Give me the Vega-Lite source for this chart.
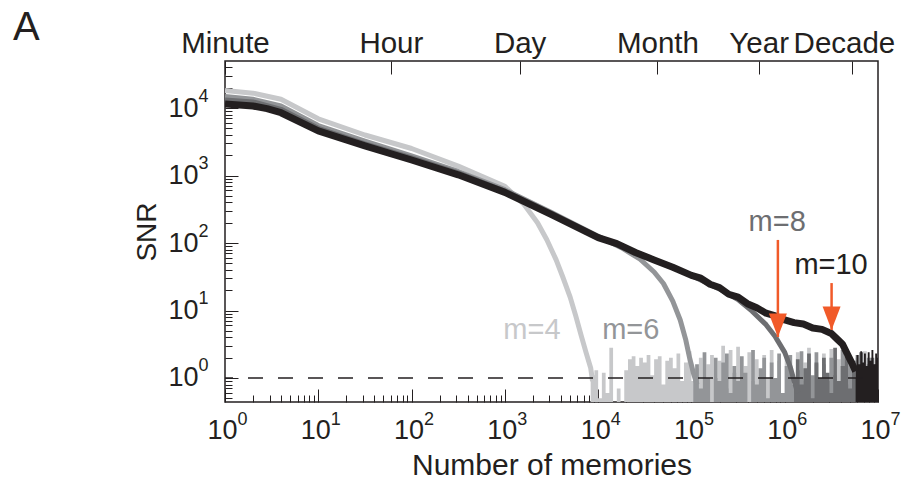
{
  "$schema": "https://vega.github.io/schema/vega-lite/v6.json",
  "autosize": {"type": "none"},
  "width": 653,
  "height": 341,
  "padding": {"left": 225, "top": 61, "right": 30, "bottom": 84},
  "background": "white",
  "title": {"text": "A", "anchor": "start", "frame": "group", "fontSize": 40, "font": "Liberation Sans", "fontWeight": "normal", "color": "#231f20", "dx": -212, "offset": 0, "dy": 20},
  "config": {
    "view": {"stroke": "#231f20", "strokeWidth": 1.5},
    "font": "Liberation Sans",
    "axis": {"domain": false, "grid": false, "labelFont": "Liberation Sans", "labelColor": "#231f20", "tickColor": "#231f20", "tickWidth": 1, "titleFont": "Liberation Sans", "titleFontWeight": "normal", "titleColor": "#231f20", "labelFlush": false, "labelOverlap": false, "labelBound": false}
  },
  "datasets": {
    "curves": [
      {"s": "4", "n": 1, "snr": 18197}, {"s": "4", "n": 1.995, "snr": 16596}, {"s": "4", "n": 3.981, "snr": 13490}, {"s": "4", "n": 10, "snr": 6918}, {"s": "4", "n": 31.62, "snr": 3981}, {"s": "4", "n": 100, "snr": 2512}, {"s": "4", "n": 316.2, "snr": 1380}, {"s": "4", "n": 1000, "snr": 692}, {"s": "4", "n": 1585, "snr": 380}, {"s": "4", "n": 2239, "snr": 200}, {"s": "4", "n": 2818, "snr": 112}, {"s": "4", "n": 3548, "snr": 56.2}, {"s": "4", "n": 4169, "snr": 31.6}, {"s": "4", "n": 5012, "snr": 15.8}, {"s": "4", "n": 5754, "snr": 8.32}, {"s": "4", "n": 6607, "snr": 4.17}, {"s": "4", "n": 7413, "snr": 2.4}, {"s": "4", "n": 8318, "snr": 1.41}, {"s": "4", "n": 8710, "snr": 0.9},
      {"s": "6", "n": 1, "snr": 14791}, {"s": "6", "n": 1.995, "snr": 13490}, {"s": "6", "n": 3.981, "snr": 10715}, {"s": "6", "n": 10, "snr": 5495}, {"s": "6", "n": 31.62, "snr": 3236}, {"s": "6", "n": 100, "snr": 1950}, {"s": "6", "n": 316.2, "snr": 1148}, {"s": "6", "n": 1000, "snr": 617}, {"s": "6", "n": 3162, "snr": 282}, {"s": "6", "n": 10000, "snr": 126}, {"s": "6", "n": 17783, "snr": 85.1}, {"s": "6", "n": 28184, "snr": 57.5}, {"s": "6", "n": 39811, "snr": 37.2}, {"s": "6", "n": 50119, "snr": 25.1}, {"s": "6", "n": 63096, "snr": 13.8}, {"s": "6", "n": 75858, "snr": 7.24}, {"s": "6", "n": 87096, "snr": 3.63}, {"s": "6", "n": 95499, "snr": 2.0}, {"s": "6", "n": 104713, "snr": 1.2}, {"s": "6", "n": 114815, "snr": 0.8},
      {"s": "8", "n": 1, "snr": 13183}, {"s": "8", "n": 1.995, "snr": 12303}, {"s": "8", "n": 3.981, "snr": 9550}, {"s": "8", "n": 10, "snr": 5012}, {"s": "8", "n": 31.62, "snr": 2951}, {"s": "8", "n": 100, "snr": 1820}, {"s": "8", "n": 316.2, "snr": 1096}, {"s": "8", "n": 1000, "snr": 589}, {"s": "8", "n": 3162, "snr": 275}, {"s": "8", "n": 10000, "snr": 123}, {"s": "8", "n": 31623, "snr": 64.6}, {"s": "8", "n": 100000, "snr": 33.1}, {"s": "8", "n": 199526, "snr": 20.9}, {"s": "8", "n": 316228, "snr": 14.5}, {"s": "8", "n": 446684, "snr": 9.77}, {"s": "8", "n": 630957, "snr": 6.17}, {"s": "8", "n": 794328, "snr": 4.07}, {"s": "8", "n": 1000000, "snr": 2.4}, {"s": "8", "n": 1148154, "snr": 1.45}, {"s": "8", "n": 1258925, "snr": 0.91}, {"s": "8", "n": 1380384, "snr": 0.6},
      {"s": "10", "n": 1, "snr": 11482}, {"s": "10", "n": 1.995, "snr": 10715}, {"s": "10", "n": 2.818, "snr": 9772}, {"s": "10", "n": 3.981, "snr": 8511}, {"s": "10", "n": 10, "snr": 4571}, {"s": "10", "n": 31.62, "snr": 2754}, {"s": "10", "n": 100, "snr": 1698}, {"s": "10", "n": 316.2, "snr": 1023}, {"s": "10", "n": 1000, "snr": 562}, {"s": "10", "n": 3162, "snr": 263}, {"s": "10", "n": 10000, "snr": 120}, {"s": "10", "n": 15849, "snr": 97.7}, {"s": "10", "n": 25119, "snr": 72.4}, {"s": "10", "n": 39811, "snr": 56.2}, {"s": "10", "n": 63096, "snr": 43.7}, {"s": "10", "n": 100000, "snr": 33.1}, {"s": "10", "n": 125893, "snr": 30.2}, {"s": "10", "n": 158489, "snr": 24.5}, {"s": "10", "n": 199526, "snr": 21.9}, {"s": "10", "n": 251189, "snr": 17.4}, {"s": "10", "n": 316228, "snr": 15.8}, {"s": "10", "n": 398107, "snr": 12.6}, {"s": "10", "n": 501187, "snr": 11.0}, {"s": "10", "n": 630957, "snr": 9.12}, {"s": "10", "n": 794328, "snr": 8.32}, {"s": "10", "n": 1000000, "snr": 7.24}, {"s": "10", "n": 1258925, "snr": 6.61}, {"s": "10", "n": 1584893, "snr": 6.31}, {"s": "10", "n": 1995262, "snr": 5.5}, {"s": "10", "n": 2511886, "snr": 5.25}, {"s": "10", "n": 3162278, "snr": 4.57}, {"s": "10", "n": 3630781, "snr": 3.8}, {"s": "10", "n": 4168694, "snr": 3.16}, {"s": "10", "n": 4677351, "snr": 2.29}, {"s": "10", "n": 5248075, "snr": 1.66}, {"s": "10", "n": 5754399, "snr": 1.26}
    ],
    "noise": [
      {"s": "4", "n": 8318, "snr": 1.4}, {"s": "4", "n": 8710, "snr": 1.1}, {"s": "4", "n": 9550, "snr": 1.3}, {"s": "4", "n": 10471, "snr": 0.5}, {"s": "4", "n": 11482, "snr": 1.2}, {"s": "4", "n": 12589, "snr": 0.6}, {"s": "4", "n": 13804, "snr": 2.8}, {"s": "4", "n": 15136, "snr": 0.35}, {"s": "4", "n": 16596, "snr": 0.7}, {"s": "4", "n": 18197, "snr": 0.35}, {"s": "4", "n": 19953, "snr": 1.3}, {"s": "4", "n": 21878, "snr": 1.9}, {"s": "4", "n": 23988, "snr": 2.1}, {"s": "4", "n": 26303, "snr": 1.5}, {"s": "4", "n": 28840, "snr": 2.0}, {"s": "4", "n": 31623, "snr": 1.7}, {"s": "4", "n": 34674, "snr": 2.2}, {"s": "4", "n": 38019, "snr": 1.1}, {"s": "4", "n": 41687, "snr": 1.9}, {"s": "4", "n": 45709, "snr": 2.1}, {"s": "4", "n": 50119, "snr": 0.8}, {"s": "4", "n": 54954, "snr": 1.8}, {"s": "4", "n": 60256, "snr": 2.0}, {"s": "4", "n": 66069, "snr": 1.4}, {"s": "4", "n": 72444, "snr": 2.3}, {"s": "4", "n": 79433, "snr": 0.9}, {"s": "4", "n": 87096, "snr": 1.7}, {"s": "4", "n": 95499, "snr": 2.5}, {"s": "4", "n": 104713, "snr": 0.9}, {"s": "4", "n": 114815, "snr": 1.4}, {"s": "4", "n": 125893, "snr": 2.0}, {"s": "4", "n": 138038, "snr": 0.3}, {"s": "4", "n": 151356, "snr": 1.6}, {"s": "4", "n": 165959, "snr": 2.2}, {"s": "4", "n": 181970, "snr": 1.0}, {"s": "4", "n": 199526, "snr": 1.8}, {"s": "4", "n": 218776, "snr": 3.0}, {"s": "4", "n": 239883, "snr": 0.7}, {"s": "4", "n": 263027, "snr": 2.6}, {"s": "4", "n": 288403, "snr": 1.2}, {"s": "4", "n": 316228, "snr": 2.9}, {"s": "4", "n": 346737, "snr": 0.3}, {"s": "4", "n": 380189, "snr": 1.5}, {"s": "4", "n": 416869, "snr": 2.4}, {"s": "4", "n": 457088, "snr": 0.9}, {"s": "4", "n": 501187, "snr": 1.9}, {"s": "4", "n": 549541, "snr": 0.6}, {"s": "4", "n": 602560, "snr": 2.2}, {"s": "4", "n": 660693, "snr": 1.0}, {"s": "4", "n": 724436, "snr": 2.6}, {"s": "4", "n": 794328, "snr": 0.8}, {"s": "4", "n": 870964, "snr": 1.8}, {"s": "4", "n": 954993, "snr": 0.3}, {"s": "4", "n": 1047129, "snr": 2.1}, {"s": "4", "n": 1148154, "snr": 1.3}, {"s": "4", "n": 1258925, "snr": 0.7}, {"s": "4", "n": 1380384, "snr": 2.4}, {"s": "4", "n": 1513561, "snr": 0.9}, {"s": "4", "n": 1659587, "snr": 1.7}, {"s": "4", "n": 1819701, "snr": 2.8}, {"s": "4", "n": 1995262, "snr": 0.6}, {"s": "4", "n": 2187762, "snr": 1.6}, {"s": "4", "n": 2398833, "snr": 0.3}, {"s": "4", "n": 2630268, "snr": 2.3}, {"s": "4", "n": 2884032, "snr": 1.1}, {"s": "4", "n": 3162278, "snr": 2.7}, {"s": "4", "n": 3467369, "snr": 0.8}, {"s": "4", "n": 3801894, "snr": 1.9}, {"s": "4", "n": 4168694, "snr": 0.5}, {"s": "4", "n": 4570882, "snr": 2.2}, {"s": "4", "n": 5011872, "snr": 1.4}, {"s": "4", "n": 5495409, "snr": 0.7}, {"s": "4", "n": 6025596, "snr": 2.0}, {"s": "4", "n": 6606934, "snr": 0.9}, {"s": "4", "n": 7244360, "snr": 2.5}, {"s": "4", "n": 7943282, "snr": 0.6}, {"s": "4", "n": 8709636, "snr": 1.8}, {"s": "4", "n": 9549926, "snr": 0.9}, {"s": "4", "n": 10000000, "snr": 1.2},
      {"s": "6", "n": 104713, "snr": 1.2}, {"s": "6", "n": 114815, "snr": 1.6}, {"s": "6", "n": 125893, "snr": 0.7}, {"s": "6", "n": 138038, "snr": 2.4}, {"s": "6", "n": 151356, "snr": 1.0}, {"s": "6", "n": 165959, "snr": 0.35}, {"s": "6", "n": 181970, "snr": 2.0}, {"s": "6", "n": 199526, "snr": 0.9}, {"s": "6", "n": 218776, "snr": 1.7}, {"s": "6", "n": 239883, "snr": 2.3}, {"s": "6", "n": 263027, "snr": 0.6}, {"s": "6", "n": 288403, "snr": 1.5}, {"s": "6", "n": 316228, "snr": 0.9}, {"s": "6", "n": 346737, "snr": 2.1}, {"s": "6", "n": 380189, "snr": 1.2}, {"s": "6", "n": 416869, "snr": 0.35}, {"s": "6", "n": 457088, "snr": 2.6}, {"s": "6", "n": 501187, "snr": 0.8}, {"s": "6", "n": 549541, "snr": 1.4}, {"s": "6", "n": 602560, "snr": 2.0}, {"s": "6", "n": 660693, "snr": 0.5}, {"s": "6", "n": 724436, "snr": 1.7}, {"s": "6", "n": 794328, "snr": 1.0}, {"s": "6", "n": 870964, "snr": 2.3}, {"s": "6", "n": 954993, "snr": 0.6}, {"s": "6", "n": 1047129, "snr": 1.5}, {"s": "6", "n": 1148154, "snr": 2.2}, {"s": "6", "n": 1258925, "snr": 0.8}, {"s": "6", "n": 1380384, "snr": 1.3}, {"s": "6", "n": 1513561, "snr": 2.5}, {"s": "6", "n": 1659587, "snr": 0.35}, {"s": "6", "n": 1819701, "snr": 1.9}, {"s": "6", "n": 1995262, "snr": 1.1}, {"s": "6", "n": 2187762, "snr": 2.4}, {"s": "6", "n": 2398833, "snr": 0.6}, {"s": "6", "n": 2630268, "snr": 1.6}, {"s": "6", "n": 2884032, "snr": 0.9}, {"s": "6", "n": 3162278, "snr": 2.0}, {"s": "6", "n": 3467369, "snr": 1.1}, {"s": "6", "n": 3801894, "snr": 0.35}, {"s": "6", "n": 4168694, "snr": 2.6}, {"s": "6", "n": 4570882, "snr": 0.8}, {"s": "6", "n": 5011872, "snr": 1.8}, {"s": "6", "n": 5495409, "snr": 0.6}, {"s": "6", "n": 6025596, "snr": 2.2}, {"s": "6", "n": 6606934, "snr": 1.0}, {"s": "6", "n": 7244360, "snr": 0.5}, {"s": "6", "n": 7943282, "snr": 2.0}, {"s": "6", "n": 8709636, "snr": 0.8}, {"s": "6", "n": 9549926, "snr": 1.6}, {"s": "6", "n": 10000000, "snr": 1.0},
      {"s": "8", "n": 1258925, "snr": 0.9}, {"s": "8", "n": 1380384, "snr": 1.9}, {"s": "8", "n": 1513561, "snr": 0.8}, {"s": "8", "n": 1659587, "snr": 1.4}, {"s": "8", "n": 1819701, "snr": 2.3}, {"s": "8", "n": 1995262, "snr": 0.5}, {"s": "8", "n": 2187762, "snr": 1.7}, {"s": "8", "n": 2398833, "snr": 1.0}, {"s": "8", "n": 2630268, "snr": 2.0}, {"s": "8", "n": 2884032, "snr": 1.2}, {"s": "8", "n": 3162278, "snr": 0.6}, {"s": "8", "n": 3467369, "snr": 2.8}, {"s": "8", "n": 3801894, "snr": 0.9}, {"s": "8", "n": 4168694, "snr": 1.5}, {"s": "8", "n": 4570882, "snr": 2.1}, {"s": "8", "n": 5011872, "snr": 0.7}, {"s": "8", "n": 5495409, "snr": 1.8}, {"s": "8", "n": 6025596, "snr": 1.0}, {"s": "8", "n": 6606934, "snr": 2.4}, {"s": "8", "n": 7244360, "snr": 0.8}, {"s": "8", "n": 7943282, "snr": 1.6}, {"s": "8", "n": 8709636, "snr": 2.0}, {"s": "8", "n": 9549926, "snr": 0.9}, {"s": "8", "n": 10000000, "snr": 1.3},
      {"s": "10", "n": 5754399, "snr": 1.3}, {"s": "10", "n": 6025596, "snr": 2.2}, {"s": "10", "n": 6309573, "snr": 1.6}, {"s": "10", "n": 6606934, "snr": 2.5}, {"s": "10", "n": 6918310, "snr": 1.7}, {"s": "10", "n": 7244360, "snr": 2.3}, {"s": "10", "n": 7585776, "snr": 1.5}, {"s": "10", "n": 7943282, "snr": 2.4}, {"s": "10", "n": 8317638, "snr": 1.8}, {"s": "10", "n": 8709636, "snr": 2.6}, {"s": "10", "n": 9120108, "snr": 1.6}, {"s": "10", "n": 9549926, "snr": 2.3}, {"s": "10", "n": 10000000, "snr": 2.0}
    ],
    "labels": [
      {"s": "4", "label": "m=4", "n": 1950, "snr": 5.14},
      {"s": "6", "label": "m=6", "n": 22400, "snr": 5.14},
      {"s": "8", "label": "m=8", "n": 830000, "snr": 205},
      {"s": "10", "label": "m=10", "n": 3140000, "snr": 47.2}
    ],
    "arrows": [
      {"s": "8", "n": 845000, "top": 111, "tip": 4.05},
      {"s": "10", "n": 3180000, "top": 25.5, "tip": 5.14}
    ]
  },
  "layer": [
    {
      "data": {"name": "noise"},
      "mark": {"type": "area", "clip": true, "interpolate": "step", "opacity": 1},
      "encoding": {
        "x": {"field": "n", "type": "quantitative", "scale": {"type": "log", "domain": [1, 10000000], "nice": false},
          "axis": {"orient": "bottom", "title": null, "ticks": false, "tickSize": 0, "labelFontSize": 18, "labelPadding": 8, "labelOffset": 17, "labelBaseline": "top",
            "values": [1,10,100,1000,10000,100000,1000000,10000000],
            "labelExpr": "'' + round(log(datum.value)/LN10)"}},
        "y": {"field": "snr", "type": "quantitative", "stack": null, "scale": {"type": "log", "domain": [0.441, 49700], "nice": false},
          "axis": {"orient": "left", "title": null, "ticks": false, "tickSize": 0, "labelFontSize": 18, "labelPadding": 17, "labelOffset": -12, "labelAlign": "right",
            "values": [1,10,100,1000,10000],
            "labelExpr": "'' + round(log(datum.value)/LN10)"}},
        "y2": {"datum": 0.05},
        "color": {"field": "s", "type": "nominal", "legend": null, "scale": {"domain": ["4", "6", "8", "10"], "range": ["#c7c8ca", "#939598", "#6d6e71", "#231f20"]}}
      }
    },
    {
      "data": {"name": "curves"},
      "mark": {"type": "line", "clip": true, "strokeJoin": "round", "strokeCap": "butt"},
      "encoding": {
        "x": {"field": "n", "type": "quantitative", "scale": {"type": "log", "domain": [1, 10000000], "nice": false},
          "axis": {"orient": "bottom", "title": "Number of memories", "titleFontSize": 30, "titlePadding": 1, "labelFontSize": 27, "labelPadding": 28, "labelOffset": -3, "labelBaseline": "top",
            "values": [1,2,3,4,5,6,7,8,9,10,20,30,40,50,60,70,80,90,100,200,300,400,500,600,700,800,900,1000,2000,3000,4000,5000,6000,7000,8000,9000,10000,20000,30000,40000,50000,60000,70000,80000,90000,100000,200000,300000,400000,500000,600000,700000,800000,900000,1000000,2000000,3000000,4000000,5000000,6000000,7000000,8000000,9000000,10000000],
            "labelExpr": "abs(log(datum.value)/LN10 - round(log(datum.value)/LN10)) < 0.001 ? '10' : ''",
            "tickSize": {"condition": {"test": "abs(log(datum.value)/LN10 - round(log(datum.value)/LN10)) < 0.001", "value": -13}, "value": -7}}},
        "y": {"field": "snr", "type": "quantitative", "scale": {"type": "log", "domain": [0.441, 49700], "nice": false},
          "axis": {"orient": "left", "title": "SNR", "titleFontSize": 28, "titlePadding": 6, "labelFontSize": 27, "labelPadding": 40, "labelAlign": "right", "labelBaseline": "middle",
            "values": [0.5,0.6,0.7,0.8,0.9,1,2,3,4,5,6,7,8,9,10,20,30,40,50,60,70,80,90,100,200,300,400,500,600,700,800,900,1000,2000,3000,4000,5000,6000,7000,8000,9000,10000,20000,30000,40000],
            "labelExpr": "abs(log(datum.value)/LN10 - round(log(datum.value)/LN10)) < 0.001 ? '10' : ''",
            "tickSize": {"condition": {"test": "abs(log(datum.value)/LN10 - round(log(datum.value)/LN10)) < 0.001", "value": -13}, "value": -7}}},
        "color": {"field": "s", "type": "nominal", "legend": null},
        "strokeWidth": {"condition": {"test": "datum.s == '10'", "value": 7}, "value": 5}
      }
    },
    {
      "data": {"values": [{"snr": 1}]},
      "mark": {"type": "rule", "strokeDash": [15, 15], "strokeDashOffset": 15, "color": "#231f20", "strokeWidth": 1.3},
      "encoding": {"y": {"field": "snr", "type": "quantitative", "scale": {"type": "log", "domain": [0.441, 49700], "nice": false}, "axis": null}}
    },
    {
      "data": {"name": "labels"},
      "mark": {"type": "text", "fontSize": 29, "font": "Liberation Sans", "align": "center", "baseline": "middle"},
      "encoding": {
        "x": {"field": "n", "type": "quantitative", "scale": {"type": "log", "domain": [1, 10000000], "nice": false},
          "axis": {"orient": "top", "title": null, "labelFontSize": 29.5, "labelPadding": 16,
            "values": [1, 60, 1440, 43200, 525600, 5256000],
            "labelExpr": "datum.value < 2 ? 'Minute' : datum.value < 100 ? 'Hour' : datum.value < 2000 ? 'Day' : datum.value < 50000 ? 'Month' : datum.value < 600000 ? 'Year' : 'Decade'",
            "labelOffset": {"condition": {"test": "datum.value > 1000000", "value": -8}, "value": 0},
            "tickSize": -13}},
        "y": {"field": "snr", "type": "quantitative", "scale": {"type": "log", "domain": [0.441, 49700], "nice": false}, "axis": null},
        "text": {"field": "label"},
        "color": {"field": "s", "type": "nominal", "legend": null}
      }
    },
    {
      "data": {"name": "arrows"},
      "mark": {"type": "rule", "color": "#f15a29", "strokeWidth": 2.5},
      "encoding": {
        "x": {"field": "n", "type": "quantitative", "scale": {"type": "log", "domain": [1, 10000000], "nice": false}, "axis": null},
        "y": {"field": "top", "type": "quantitative", "scale": {"type": "log", "domain": [0.441, 49700], "nice": false}, "axis": null},
        "y2": {"field": "tip"}
      }
    },
    {
      "data": {"name": "arrows"},
      "mark": {"type": "point", "shape": "M-1,-2.6L1,-2.6L0,0Z", "filled": true, "color": "#f15a29", "size": 324, "opacity": 1, "strokeWidth": 0},
      "encoding": {
        "x": {"field": "n", "type": "quantitative", "scale": {"type": "log", "domain": [1, 10000000], "nice": false}, "axis": null},
        "y": {"field": "tip", "type": "quantitative", "scale": {"type": "log", "domain": [0.441, 49700], "nice": false}, "axis": null}
      }
    }
  ],
  "resolve": {"axis": {"x": "independent", "y": "independent"}}
}
